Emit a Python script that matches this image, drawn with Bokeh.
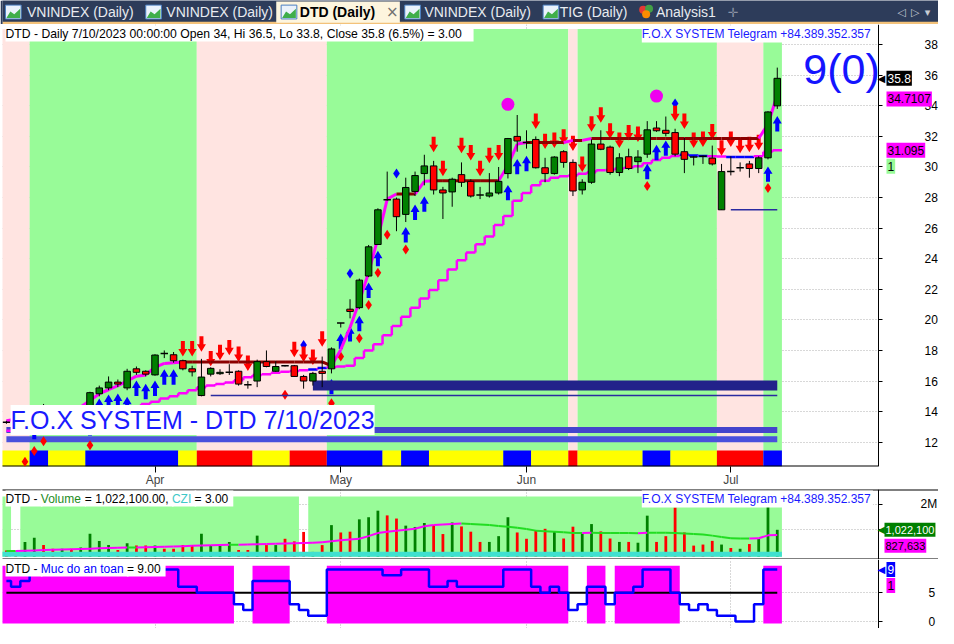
import pandas as pd
from bokeh.plotting import figure
from bokeh.models import Range1d, FixedTicker, Label, LinearAxis, Grid
from bokeh.layouts import column
from bokeh.embed import file_html
from bokeh.resources import INLINE
from bokeh.core.properties import value

# ============================ DATA ============================
symbol = "DTD"
holidays = ["2023-05-01", "2023-05-02", "2023-05-03"]
dates = [d for d in pd.bdate_range("2023-03-10", "2023-07-10")
         if d.strftime("%Y-%m-%d") not in holidays]

open_ = [13.3, 13.4, 13.1, 13.5, 13.9, 13.7, 13.5, 13.9, 13.7, 14.0,
         15.17, 15.55, 15.93, 15.55, 16.8, 16.64, 16.4, 17.8, 17.72, 17.33,
         16.8, 15.05, 16.45, 16.48, 16.57, 16.64, 15.75, 16.0, 17.27, 16.64,
         17.0, 17.0, 16.3, 16.0, 16.64, 16.8, 19.8, 20.7, 20.8, 22.87,
         24.93, 27.85, 27.9, 26.9, 28.4, 29.57, 30.07, 28.5, 28.37, 29.5,
         29.06, 28.16, 28.1, 28.3, 29.57, 32.0, 31.6, 31.8, 29.95, 29.57,
         31.0, 30.3, 28.5, 29.0, 31.5, 31.3, 29.64, 30.67, 30.35, 30.84,
         32.55, 32.4, 32.25, 31.0, 30.66, 30.7, 30.58, 27.2, 29.7, 29.95,
         30.2, 29.9, 30.6, 34.0]
high = [13.4, 13.5, 13.6, 14.0, 14.5, 13.8, 14.0, 14.0, 14.1, 15.3,
        15.7, 16.3, 16.1, 16.8, 16.95, 16.7, 17.75, 18.0, 17.9, 17.4,
        17.0, 17.45, 16.9, 16.77, 17.1, 16.7, 16.0, 17.4, 18.0, 17.3,
        17.05, 17.05, 16.4, 16.6, 17.6, 18.2, 19.8, 21.35, 22.7, 24.9,
        27.3, 29.7, 28.0, 29.3, 29.7, 30.8, 30.4, 28.7, 29.3, 30.3,
        29.2, 28.7, 29.6, 30.0, 31.9, 33.4, 32.4, 32.0, 30.6, 30.7,
        31.1, 30.5, 29.2, 31.8, 32.4, 31.4, 30.9, 31.2, 31.1, 33.0,
        33.0, 33.3, 32.5, 31.9, 30.7, 30.75, 31.4, 30.2, 30.7, 30.3,
        30.4, 30.7, 33.65, 36.5]
low = [13.2, 13.0, 13.0, 13.4, 13.6, 13.4, 13.4, 13.6, 13.6, 13.9,
       15.0, 15.4, 15.6, 15.4, 16.4, 16.3, 16.35, 17.5, 17.2, 16.7,
       16.3, 15.0, 16.3, 16.4, 16.4, 15.7, 15.5, 15.6, 16.9, 16.6,
       16.95, 16.3, 15.5, 15.7, 15.6, 16.5, 19.5, 20.1, 20.7, 22.8,
       24.9, 27.8, 25.8, 26.4, 28.1, 28.8, 28.2, 26.6, 27.4, 28.7,
       28.0, 27.9, 28.0, 28.2, 29.25, 31.0, 31.2, 29.9, 29.0, 29.5,
       29.95, 28.1, 28.2, 28.9, 31.1, 29.5, 29.4, 29.8, 29.6, 30.6,
       32.3, 32.0, 30.7, 29.6, 30.1, 30.2, 30.1, 27.2, 29.45, 29.7,
       29.3, 29.6, 30.5, 33.8]
close = [13.3, 13.1, 13.5, 13.9, 13.7, 13.5, 13.9, 13.7, 14.0, 15.24,
         15.55, 15.93, 15.8, 16.64, 16.57, 16.45, 17.7, 17.8, 17.33, 16.8,
         16.6, 16.26, 16.83, 16.57, 16.57, 15.8, 15.75, 17.27, 16.95, 16.95,
         17.0, 16.3, 16.0, 16.5, 16.5, 18.1, 19.8, 20.55, 22.6, 24.78,
         27.2, 27.85, 26.75, 28.66, 29.44, 30.07, 28.5, 28.3, 29.2, 29.0,
         28.1, 28.16, 28.3, 29.06, 31.86, 31.7, 31.6, 29.95, 29.57, 30.65,
         30.3, 28.43, 29.0, 31.5, 31.16, 29.64, 30.6, 29.9, 30.65, 32.43,
         32.37, 32.2, 30.84, 30.5, 30.66, 30.7, 30.2, 29.7, 29.7, 29.95,
         29.9, 30.6, 33.6, 35.8]
volume = [230000, 200000, 560000, 720000, 440000, 300000, 300000, 300000, 350000, 870000,
          600000, 440000, 250000, 510000, 420000, 420000, 420000, 300000, 300000, 440000,
          440000, 870000, 440000, 440000, 560000, 250000, 250000, 800000, 440000, 440000,
          680000, 580000, 940000, 180000, 440000, 1200000, 920000, 950000, 1420000, 1500000,
          1750000, 1570000, 1450000, 1180000, 1130000, 1280000, 1200000, 860000, 1300000, 1150000,
          950000, 560000, 560000, 780000, 1500000, 920000, 680000, 1000000, 1060000, 960000,
          690000, 1140000, 870000, 1240000, 960000, 690000, 560000, 560000, 530000, 1560000,
          560000, 780000, 1870000, 920000, 420000, 460000, 600000, 460000, 330000, 300000,
          480000, 670000, 1930000, 1022100]
vol_up = [0, 0, 1, 1, 0, 0, 1, 0, 1, 1,
          1, 1, 0, 1, 0, 0, 1, 0, 0, 0,
          0, 1, 1, 1, 1, 0, 0, 1, 0, 1,
          0, 0, 0, 1, 0, 1, 0, 0, 1, 1,
          1, 0, 0, 1, 1, 1, 0, 0, 1, 0,
          0, 0, 1, 1, 1, 0, 0, 0, 0, 1,
          0, 0, 1, 1, 0, 0, 1, 0, 1, 1,
          0, 0, 0, 0, 0, 0, 0, 1, 0, 1,
          0, 1, 1, 1]
vol_ma = [210000, 210000, 220000, 230000, 250000, 260000, 270000, 280000, 290000, 300000,
          320000, 330000, 340000, 350000, 350000, 360000, 370000, 380000, 390000, 400000,
          410000, 420000, 430000, 440000, 450000, 450000, 460000, 470000, 480000, 490000,
          500000, 510000, 520000, 530000, 550000, 590000, 620000, 650000, 680000, 780000,
          900000, 950000, 990000, 1020000, 1060000, 1160000, 1200000, 1220000, 1240000, 1260000,
          1240000, 1220000, 1200000, 1170000, 1140000, 1100000, 1050000, 990000, 970000, 950000,
          930000, 900000, 900000, 910000, 900000, 900000, 900000, 900000, 890000, 910000,
          910000, 910000, 900000, 880000, 860000, 840000, 800000, 750000, 700000, 690000,
          690000, 700000, 810000, 827633]
vol_bg_white_bars = [1, 32]
czi_value = 3.00

fast_line = [13.4, 13.5, 13.5, 13.6, 13.8, 13.9, 14.0, 14.1, 14.3, 14.72,
             15.17, 15.43, 15.7, 16.0, 16.32, 16.4, 16.9, 17.15, 17.2, 17.25,
             17.25, 17.25, 17.25, 17.25, 17.25, 17.25, 17.25, 17.25, 17.25, 17.25,
             17.25, 17.25, 17.25, 17.25, 17.25, 17.0, 18.05, 19.5, 21.2, 23.1,
             25.35, 27.9, 28.23, 28.23, 28.23, 29.06, 29.1, 29.1, 29.1, 29.1,
             29.1, 29.1, 29.1, 29.1, 30.1, 31.5, 31.6, 31.6, 31.6, 31.6,
             31.6, 31.74, 31.74, 31.86, 31.86, 31.86, 31.86, 31.86, 31.86, 31.86,
             31.86, 31.86, 31.86, 31.86, 31.86, 31.86, 31.86, 31.86, 31.86, 31.86,
             31.86, 31.86, 32.8, 34.7107]
slow_line = [12.75, 12.8, 12.85, 12.95, 13.1, 13.3, 13.5, 13.7, 13.85, 14.0,
             14.1, 14.2, 14.25, 14.3, 14.35, 14.5, 14.65, 14.85, 15.0, 15.2,
             15.4, 15.6, 15.7, 15.8, 15.9, 16.05, 16.25, 16.4, 16.45, 16.55,
             16.6, 16.65, 16.7, 16.75, 16.85, 16.9, 16.95, 17.0, 17.5, 18.0,
             18.4, 19.0, 19.6, 20.2, 20.8, 21.4, 21.95, 22.6, 23.3, 23.9,
             24.4, 24.95, 25.45, 26.2, 26.8, 27.8, 28.3, 28.8, 29.1, 29.3,
             29.4, 29.45, 29.55, 29.65, 29.78, 29.8, 29.9, 29.95, 30.05, 30.25,
             30.45, 30.6, 30.72, 30.8, 30.75, 30.72, 30.7, 30.68, 30.66, 30.65,
             30.65, 30.7, 31.0, 31.095]
slow_blue_bars = [33, 34, 73, 74, 75, 78, 79, 80]

sell_bar = [19, 20, 21, 22, 23, 24, 25, 26, 31, 32, 33, 34, 46, 47, 49, 50, 51, 52, 53,
            57, 58, 59, 60, 61, 62, 63, 64, 65, 66, 67, 68, 72, 73, 74, 75, 76, 77, 78, 79, 80, 81]
sell_tip = [17.6, 17.6, 17.92, 16.96, 17.36, 17.68, 17.24, 16.66, 17.55, 17.24, 17.05, 18.25,
            30.97, 29.4, 30.9, 30.42, 29.4, 30.25, 30.42,
            32.48, 31.17, 31.25, 31.46, 31.04, 29.68, 32.3, 32.9, 31.85, 31.25, 31.74, 31.63,
            33.0, 32.48, 31.25, 31.31, 31.8, 30.74, 31.31, 30.9, 30.96, 31.1]
buy_bar = [3, 9, 10, 11, 12, 13, 14, 15, 16, 17, 18, 35, 36, 37, 38, 39, 40, 43, 44, 45,
           54, 55, 56, 69, 70, 71, 82, 83]
buy_tip = [13.2, 13.45, 14.85, 15.12, 15.18, 14.97, 16.03, 15.82, 16.03, 16.77, 16.77,
           16.14, 19.11, 19.59, 20.27, 22.44, 24.52, 26.07, 27.54, 28.09,
           28.83, 30.53, 30.74, 30.21, 31.46, 31.74, 30.04, 33.33]
red_dot_bar = [2, 3, 4, 9, 30, 35, 36, 38, 39, 40, 41, 43, 69, 82]
red_dot_price = [10.72, 11.42, 12.06, 11.8, 15.11, 14.54, 17.6, 18.8, 20.97, 23.08, 25.56, 24.6, 28.75, 28.62]
blue_dot_bar = [32, 37, 42, 72]
blue_dot_price = [18.36, 23.03, 29.57, 34.16]
circle_bar = [54, 70]
circle_price = [34.1, 34.64]

navy_zone = (33, 83, 15.7)            # start bar, end bar, price
blue_rails = [(0, 83, 12.8), (0, 83, 12.2)]
thin_supports = [(22, 83, 15.05), (78, 83, 27.2)]

bg_code = ("PPP" + "GGGGGGGGGGGGGGGGGG" + "PPPPPPPPPPPPPP" +
           "GGGGGGGGGGGGGGGGGGGGGGGGGG" + "P" + "GGGGGGGGGGGGGGG" + "PPPPP" + "GG")
strip_code = ("YYY" + "BB" + "YYYY" + "BBBBBBBBBB" + "YY" + "RRRRRR" + "YYYY" + "RRRR" +
              "BBBBBB" + "YY" + "BBB" + "YYYYYYYY" + "BBB" + "YYYY" + "R" + "YYYYYYY" +
              "BBB" + "YYYYY" + "RRRRR" + "BB")
safety = [7, 6, 7, 9, 9, 9, 9, 9, 9, 9,
          9, 9, 9, 9, 9, 9, 9, 9, 9, 6,
          6, 5, 5, 5, 5, 3, 2, 7, 7, 7,
          7, 3, 2, 1, 1, 9, 9, 9, 9, 9,
          9, 8, 8, 9, 9, 9, 6, 6, 7, 6,
          6, 6, 6, 6, 9, 9, 9, 6, 5, 6,
          5, 2, 3, 6, 6, 3, 5, 5, 6, 9,
          9, 9, 5, 3, 2, 3, 2, 1, 1, 0,
          0, 3, 9, 9]
safety_level = 5

price_ticks = [12, 14, 16, 18, 20, 22, 24, 26, 28, 30, 32, 34, 36, 38]
vol_ticks = {2000000: "2M"}
safety_ticks = [0, 5]
tab_labels = ["VNINDEX (Daily)", "VNINDEX (Daily)", "DTD (Daily)", "VNINDEX (Daily)",
              "TIG (Daily)", "Analysis1"]
active_tab = 2
telegram = "F.O.X SYSTEM Telegram +84.389.352.357"

N = len(dates)
for arr in (open_, high, low, close, volume, vol_up, vol_ma, fast_line, slow_line, safety):
    assert len(arr) == N, len(arr)
assert len(bg_code) == N and len(strip_code) == N
idx = list(range(N))

# ============================ LAYOUT / STYLE ============================
FONT = "Liberation Sans"
W = 938
TAB_H, PRICE_H, VOL_H, SAFE_H = 24, 465, 70, 69
BL, PRICE_BB = 2, 22
AXIS_W = 60                      # width of the price-scale strip at the right
X0, X1 = -0.42, 93.9             # X1 = position of the price scale
PPX = (W - BL - AXIS_W) / (X1 - X0)
X_END = X0 + (W - BL) / PPX
Y0, Y1 = 10.41, 39.32
PPY = (PRICE_H - PRICE_BB) / (Y1 - Y0)
GREEN, RED = "#008000", "#ff0000"
BG_COL = {"P": "#ffe4e1", "G": "#98fb98"}
STRIP_COL = {"Y": "#ffff00", "B": "#0000ff", "R": "#ff0000"}
MAGENTA = "#ff00ff"
GRID_COL = "#b0b0b0"

AW = {' ': 278, '!': 278, '%': 889, '(': 333, ')': 333, '+': 584, ',': 278, '-': 333, '.': 278,
      '/': 278, ':': 278, '=': 584, 'A': 667, 'B': 667, 'C': 722, 'D': 722, 'E': 667, 'F': 611,
      'G': 778, 'H': 722, 'I': 278, 'L': 556, 'M': 833, 'N': 722, 'O': 778, 'S': 667, 'T': 611,
      'V': 667, 'X': 667, 'Y': 667, 'Z': 611, 'a': 556, 'c': 500, 'd': 556, 'e': 556, 'g': 556,
      'i': 222, 'l': 222, 'm': 833, 'n': 556, 'o': 556, 'p': 556, 'r': 333, 's': 500, 't': 278,
      'u': 556, 'y': 500}


def tw(s, size):
    return sum(AW.get(ch, 556) for ch in s) * size / 1000.0


def runs(codes):
    out, start = [], 0
    for i in range(1, len(codes) + 1):
        if i == len(codes) or codes[i] != codes[start]:
            out.append((start, i - 1, codes[start]))
            start = i
    return out


month_idx = [i for i in range(1, N) if dates[i].month != dates[i - 1].month]
month_lab = {i: dates[i].strftime("%b") for i in month_idx}

xr = Range1d(X0, X_END)


def make_fig(height, yr, yticks, bottom=0, x_axis=None, standoff=42, overrides=None):
    f = figure(width=W, height=height, x_range=xr, y_range=yr, output_backend="svg",
               toolbar_location=None, x_axis_location=x_axis, y_axis_location=None,
               min_border_left=BL, min_border_right=0, min_border_top=0,
               min_border_bottom=bottom, background_fill_color="white",
               border_fill_color="white", outline_line_color=None)
    for g in f.xgrid:
        g.grid_line_color = None
    for g in f.ygrid:
        g.grid_line_color = None
    f.add_layout(Grid(dimension=0, ticker=FixedTicker(ticks=month_idx), grid_line_color=GRID_COL,
                      grid_line_dash="1 2"))
    f.add_layout(Grid(dimension=1, ticker=FixedTicker(ticks=yticks), grid_line_color=GRID_COL,
                      grid_line_dash="1 2"))
    # blank strip under the price scale
    f.quad(left=X1, right=X_END, bottom=yr.start, top=yr.end, fill_color="white", line_color=None)
    ya = LinearAxis(fixed_location=X1, ticker=FixedTicker(ticks=yticks), major_tick_out=4,
                    major_tick_in=0, minor_tick_line_color=None, axis_line_color="black",
                    major_label_standoff=standoff, major_label_text_font=FONT,
                    major_label_text_font_size="12px", major_label_text_color="black")
    if overrides:
        ya.major_label_overrides = overrides
    f.add_layout(ya, "right")
    return f


def tag(f, y, text, bg, fg, yoff=0, pointer=False, size=12, xoff=8):
    f.add_layout(Label(x=X1, y=y, x_offset=xoff, y_offset=yoff, text=text, text_font=FONT,
                       text_font_size=f"{size}px", text_color=fg, text_baseline="middle",
                       background_fill_color=bg, padding=(1, 3)))
    if pointer:
        f.add_layout(Label(x=X1, y=y, x_offset=-1, y_offset=yoff, text="\u25c0",
                           text_font="DejaVu Sans", text_font_size="10px", text_color=bg,
                           text_baseline="middle"))


def header(f, pieces, size=12):
    xo = 3
    for k, (txt, col) in enumerate(pieces):
        f.add_layout(Label(x=X0, y=f.y_range.end, x_offset=xo, y_offset=-1, text=txt,
                           text_color=col, text_font=FONT, text_font_size=f"{size}px",
                           text_baseline="top", background_fill_color="white",
                           padding=(0, 5, 1, 1)))
        xo += tw(txt + " ", size)


def telegram_label(f):
    f.add_layout(Label(x=93.3, y=f.y_range.end, y_offset=-1, text=telegram, text_color="#1a1aff",
                       text_font=FONT, text_font_size="12px", text_align="right",
                       text_baseline="top", background_fill_color="white", padding=(0, 2, 1, 2)))


def hline(f, y, x_right):
    f.segment(x0=[X0 - 1], x1=[x_right], y0=[y], y1=[y], line_color="black", line_width=2)


# ============================ TAB BAR ============================
t = figure(width=W, height=TAB_H, x_range=Range1d(0, 954), y_range=Range1d(26, 0),
           output_backend="svg", toolbar_location=None, x_axis_location=None,
           y_axis_location=None, min_border=0, background_fill_color="#2d3c5a",
           border_fill_color="#2d3c5a", outline_line_color=None)
for g in list(t.xgrid) + list(t.ygrid):
    g.grid_line_color = None
t.quad(left=0, right=954, top=23, bottom=26, fill_color="#f3c27a", line_color=None)
t.quad(left=279, right=405, top=1, bottom=24, fill_color="#fdf5de", line_color=None)
tab_text_x = [25, 167, 303, 430, 568, 666]
tab_icon_x = [3, 146, 284, 410, 551, 648]
for k, lab in enumerate(tab_labels):
    ix = tab_icon_x[k]
    if lab.startswith("Analysis"):
        t.scatter([ix + 5, ix + 11, ix + 8], [10, 9, 15], size=8,
                  fill_color=["#e53935", "#43a047", "#fb8c00"], line_color=None)
    else:
        t.quad(left=ix, right=ix + 16, top=5, bottom=20, fill_color="#eaf2fb", line_color="#4a7fc0")
        t.patch([ix + 1, ix + 5, ix + 9, ix + 15, ix + 15, ix + 1],
                [19, 12, 15, 9, 19, 19], fill_color="#3fae4a", line_color=None)
    bold = k == active_tab
    t.text([tab_text_x[k]], [12.5], text=[lab], text_font=value(FONT),
           text_font_size="14px", text_font_style="bold" if bold else "normal",
           text_color="black" if bold else "#e8ebf0", text_baseline="middle")
t.text([391], [12.5], text=["\u00d7"], text_font=value("DejaVu Sans"), text_font_size="15px",
       text_color="#707070", text_baseline="middle")
t.text([739], [12.5], text=["\u271b"], text_font=value("DejaVu Sans"), text_font_size="13px",
       text_color="#8a93a6", text_baseline="middle")
t.text([912, 926, 940], [12.5, 12.5, 13.5], text=["\u25c1", "\u25b7", "\u25be"],
       text_font=value("DejaVu Sans"), text_font_size="11px", text_color="#c8ccd4",
       text_baseline="middle")

# ============================ PRICE PANE ============================
p = make_fig(PRICE_H, Range1d(Y0, Y1), price_ticks, bottom=PRICE_BB, x_axis="below", standoff=42)
xa = p.xaxis[0]
xa.ticker = FixedTicker(ticks=month_idx)
xa.major_label_overrides = month_lab
xa.major_tick_out = 6
xa.major_tick_in = 0
xa.minor_tick_line_color = None
xa.major_label_standoff = 0
xa.major_label_text_font = FONT
xa.major_label_text_font_size = "12px"
xa.axis_line_color = None

BAND_TOP = 39.02
STRIP_TOP = 11.45
for a, b, c in runs(bg_code):
    p.quad(left=a - 0.5, right=b + 0.5, bottom=Y0, top=BAND_TOP, fill_color=BG_COL[c], line_color=None)
for a, b, c in runs(strip_code):
    p.quad(left=a - 0.5, right=b + 0.5, bottom=Y0, top=STRIP_TOP, fill_color=STRIP_COL[c], line_color=None)
hline(p, Y0, X1)

p.segment(x0=[r[0] for r in blue_rails], x1=[r[1] for r in blue_rails],
          y0=[r[2] for r in blue_rails], y1=[r[2] for r in blue_rails],
          line_color=["#4444cc", "#4a50dc"], line_width=6)

# slow (staircase) line
sx0, sx1, sy0, sy1, scol = [], [], [], [], []
for i in idx:
    c = "#0000ff" if i in slow_blue_bars else MAGENTA
    sx0.append(i - 0.5); sx1.append(i + 0.5); sy0.append(slow_line[i]); sy1.append(slow_line[i]); scol.append(c)
    if i + 1 < N:
        sx0.append(i + 0.5); sx1.append(i + 0.5); sy0.append(slow_line[i]); sy1.append(slow_line[i + 1]); scol.append(MAGENTA)
sx0[0] = 0
p.segment(x0=sx0, x1=sx1, y0=sy0, y1=sy1, line_color=scol, line_width=2.5)

p.scatter(red_dot_bar, red_dot_price, marker="diamond", size=10, fill_color="#ff0000", line_color=None)
p.scatter(blue_dot_bar, blue_dot_price, marker="diamond", size=10, fill_color="#0000ff", line_color=None)
p.scatter(circle_bar, circle_price, marker="circle", size=13, fill_color="#f000f0", line_color=None)


def arrow(x, tip, up):
    hw, hh, sw, sl = 4.5, 7.5, 2.0, 8.0
    pts = [(0, 0), (hw, -hh), (sw, -hh), (sw, -hh - sl), (-sw, -hh - sl), (-sw, -hh), (-hw, -hh)]
    s = 1 if up else -1
    return [x + px / PPX for px, _ in pts], [tip + s * py / PPY for _, py in pts]


axs, ays = zip(*[arrow(b, tp, True) for b, tp in zip(buy_bar, buy_tip)])
p.patches(list(axs), list(ays), fill_color="#0000ff", line_color=None)
dxs, dys = zip(*[arrow(b, tp, False) for b, tp in zip(sell_bar, sell_tip)])
p.patches(list(dxs), list(dys), fill_color="#ff0000", line_color=None)

p.segment(x0=[navy_zone[0]], x1=[navy_zone[1]], y0=[navy_zone[2]], y1=[navy_zone[2]],
          line_color="#22228a", line_width=10)
p.segment(x0=[r[0] for r in thin_supports], x1=[r[1] for r in thin_supports],
          y0=[r[2] for r in thin_supports], y1=[r[2] for r in thin_supports],
          line_color="#2a2aa0", line_width=1.5)

# fast line
fx0, fx1, fy0, fy1, fcol = [], [], [], [], []
for i in range(1, N):
    fx0.append(i - 1); fx1.append(i); fy0.append(fast_line[i - 1]); fy1.append(fast_line[i])
    fcol.append(MAGENTA if fast_line[i] > fast_line[i - 1] else "#8b0000")
p.segment(x0=fx0, x1=fx1, y0=fy0, y1=fy1, line_color=fcol, line_width=3)

# candles
p.segment(x0=idx, x1=idx, y0=low, y1=high, line_color="black", line_width=1)
up_i = [i for i in idx if close[i] > open_[i]]
dn_i = [i for i in idx if close[i] < open_[i]]
dj_i = [i for i in idx if close[i] == open_[i]]
p.vbar(x=up_i, top=[close[i] for i in up_i], bottom=[open_[i] for i in up_i], width=0.7,
       fill_color=GREEN, line_color="black", line_width=1)
p.vbar(x=dn_i, top=[open_[i] for i in dn_i], bottom=[close[i] for i in dn_i], width=0.7,
       fill_color=RED, line_color="black", line_width=1)
p.segment(x0=[i - 0.4 for i in dj_i], x1=[i + 0.4 for i in dj_i], y0=[close[i] for i in dj_i],
          y1=[close[i] for i in dj_i], line_color="black", line_width=1.5)

last = dates[-1]
last_str = f"{last.month}/{last.day}/{last.year}"
pct = (close[-1] / close[-2] - 1) * 100
header(p, [(f"{symbol} - Daily {last_str} 00:00:00 Open {open_[-1]:g}, Hi {high[-1]:g}, "
            f"Lo {low[-1]:g}, Close {close[-1]:g} ({pct:.1f}%)   = {czi_value:.2f}", "black")],
       size=12.2)
telegram_label(p)
p.add_layout(Label(x=0.45, y=13.45, text=f"F.O.X SYSTEM - {symbol} {last_str}", text_font=FONT,
                   text_font_size="25px", text_color="#1a1aff", text_baseline="middle",
                   background_fill_color="white", padding=(0, 1)))
p.add_layout(Label(x=85.8, y=36.4, text=f"{safety[-1]}(0)", text_font=FONT, text_font_size="43px",
                   text_color="#1414ff", text_baseline="middle"))
tag(p, close[-1], f"{close[-1]:g}", "black", "white", pointer=True)
tag(p, fast_line[-1], f"{fast_line[-1]:g}", MAGENTA, "black", yoff=-4)
tag(p, slow_line[-1], f"{slow_line[-1]:g}", MAGENTA, "black")
tag(p, slow_line[-1], "1", "#98fb98", "black", yoff=-16)

# ============================ VOLUME PANE ============================
v = make_fig(VOL_H, Range1d(-109000, 2556000), list(vol_ticks) + [volume[-1]], standoff=38,
             overrides={**vol_ticks, volume[-1]: ""})
VOL_BG_TOP = 2290000
vbg = "".join("W" if i in vol_bg_white_bars else "G" for i in idx)
for a, b, c in runs(vbg):
    if c == "G":
        v.quad(left=a - 0.5, right=b + 0.5, bottom=0, top=VOL_BG_TOP, fill_color="#98fb98", line_color=None)
v.vbar(x=idx, top=volume, bottom=0, width=0.3, line_color=None,
       fill_color=[GREEN if u else RED for u in vol_up])
v.quad(left=-0.5, right=N - 0.5, bottom=0, top=190000, fill_color="#40e0d0", line_color=None)
mx0, mx1, my0, my1, mcol = [], [], [], [], []
for i in range(1, N):
    mx0.append(i - 1); mx1.append(i); my0.append(vol_ma[i - 1]); my1.append(vol_ma[i])
    mcol.append(MAGENTA if vol_ma[i] > vol_ma[i - 1] else "#22dd22")
v.segment(x0=mx0, x1=mx1, y0=my0, y1=my1, line_color=mcol, line_width=2)
hline(v, v.y_range.end, X_END + 1)
hline(v, v.y_range.start, X_END + 1)
header(v, [(f"{symbol} -", "black"), ("Volume", "#1e8c1e"),
           (f"= {volume[-1]:,.2f},", "black"), ("CZI", "#40c8c8"), (f"= {czi_value:.2f}", "black")])
telegram_label(v)
tag(v, volume[-1], f"{volume[-1]:,}", "#008000", "white", pointer=True, size=11, xoff=6)
tag(v, volume[-1], f"{vol_ma[-1]:,}", MAGENTA, "black", yoff=-16, size=11, xoff=6)

# ============================ SAFETY PANE ============================
s = make_fig(SAFE_H, Range1d(-1.19, 10.72), safety_ticks, standoff=46)
scode = "".join("M" if val >= safety_level else "W" for val in safety)
for a, b, c in runs(scode):
    if c == "M":
        s.quad(left=a - 0.5, right=b + 0.5, bottom=-0.33, top=9.63, fill_color=MAGENTA, line_color=None)
s.line([0, N - 1], [safety_level, safety_level], line_color="black", line_width=2)
s.step(idx, safety, mode="center", line_color="#0000ff", line_width=2.5)
header(s, [(f"{symbol} -", "black"), ("Muc do an toan", "#0000ff"), (f"= {safety[-1]:.2f}", "black")])
tag(s, safety[-1], f"{safety[-1]}", "#0000ff", "white", pointer=True)
tag(s, safety[-1], "1", MAGENTA, "black", yoff=-16)

layout = column(t, p, v, s, spacing=0)
open("out.html", "w").write(file_html(layout, INLINE, title="DTD"))
